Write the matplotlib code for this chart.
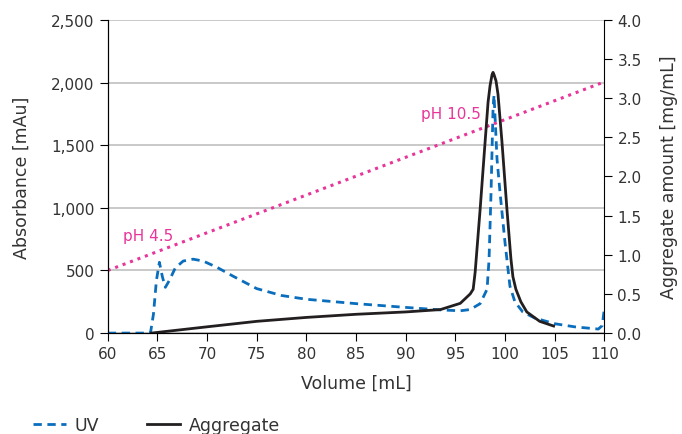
import matplotlib.pyplot as plt
from matplotlib.ticker import FuncFormatter

# UV trace (absorbance, mAu)
uv_vol = [60, 64.3, 64.6, 64.9, 65.2, 65.5, 65.8, 66.2, 66.8, 67.6, 68.6, 69.6, 71.0,
          72.6, 75.0, 77.5, 80, 85, 90, 93.5, 95.5, 96.5, 97.5, 98.2, 98.4, 98.6,
          98.8, 98.9, 99.2, 99.5, 100.0, 100.5, 101.0, 101.8, 103, 105, 107, 109.4,
          109.8, 110]
uv_abs = [0, 0, 150, 420, 565, 450, 365, 420, 520, 575, 590, 575, 525,
          455, 355, 300, 270, 235, 205, 185, 178, 188, 235, 350, 590, 1126,
          1790, 1900, 1390, 1126, 727, 375, 250, 168, 120, 75, 50, 32,
          60, 190]

# Aggregate trace (mg/mL)
agg_vol = [64.4, 70, 75, 80, 85, 90, 93.5, 95.5, 96.5, 96.8, 97.0, 97.5, 98.0, 98.3,
           98.5, 98.7, 98.8, 98.9, 99.1, 99.3, 99.7, 100.2, 100.6, 100.8, 101.1,
           101.6, 102.2, 103.5, 104.9]
agg_amt = [0, 0.08, 0.15, 0.2, 0.24, 0.27, 0.30, 0.38, 0.50, 0.56, 0.78, 1.58, 2.44, 2.95,
           3.16, 3.30, 3.33, 3.30, 3.22, 3.05, 2.44, 1.58, 0.95, 0.72, 0.56,
           0.40, 0.27, 0.15, 0.09]

# pH gradient line (drawn in absorbance units)
ph_vol = [60, 110]
ph_abs = [500, 2005]

blue = "#0a6ebd"
black = "#231f20"
pink = "#e8359a"
txt = "#333333"

fig = plt.figure(figsize=(6.82, 4.35), dpi=100)
ax = fig.add_axes([0.158, 0.232, 0.728, 0.720])
ax2 = ax.twinx()

ax.set_xlim(60, 110)
ax.set_ylim(0, 2500)
ax2.set_ylim(0, 4.0)

ax.set_yticks(range(0, 2501, 500))
ax.yaxis.set_major_formatter(FuncFormatter(lambda v, p: f"{int(v):,}"))
ax.set_xticks(range(60, 111, 5))
ax2.set_yticks([i * 0.5 for i in range(9)])
ax2.yaxis.set_major_formatter(FuncFormatter(lambda v, p: f"{v:.1f}"))

ax.grid(axis="y", color="#c0c0c0", linewidth=1.2)
ax.set_axisbelow(True)

ax.plot(ph_vol, ph_abs, color=pink, linestyle=(0, (1, 1.6)), linewidth=2.2)
ax.plot(uv_vol, uv_abs, color=blue, linestyle=(0, (3, 2)), linewidth=2)
ax2.plot(agg_vol, agg_amt, color=black, linewidth=2, solid_joinstyle="round")

ax.text(61.5, 745, "pH 4.5", color=pink, fontsize=11)
ax.text(91.5, 1720, "pH 10.5", color=pink, fontsize=11)

for a in (ax, ax2):
    a.spines["top"].set_visible(False)
    a.tick_params(labelsize=11, length=6, color="black", labelcolor=txt)
ax.spines["right"].set_visible(False)

ax.set_xlabel("Volume [mL]", fontsize=12.5, color=txt, labelpad=9)
ax.set_ylabel("Absorbance [mAu]", fontsize=12.5, color=txt, labelpad=15)
ax2.set_ylabel("Aggregate amount [mg/mL]", fontsize=12.5, color=txt, labelpad=13)

h1, = ax.plot([], [], color=blue, linestyle=(0, (3, 2)), linewidth=2, label="UV")
h2, = ax.plot([], [], color=black, linewidth=2, label="Aggregate")
leg = fig.legend(handles=[h1, h2], loc="lower left", bbox_to_anchor=(0.025, -0.035),
                 ncol=2, frameon=False, fontsize=12.5, handlelength=1.9,
                 handletextpad=0.5, columnspacing=2.8)
for t in leg.get_texts():
    t.set_color(txt)

fig.savefig("out.png", dpi=100)
